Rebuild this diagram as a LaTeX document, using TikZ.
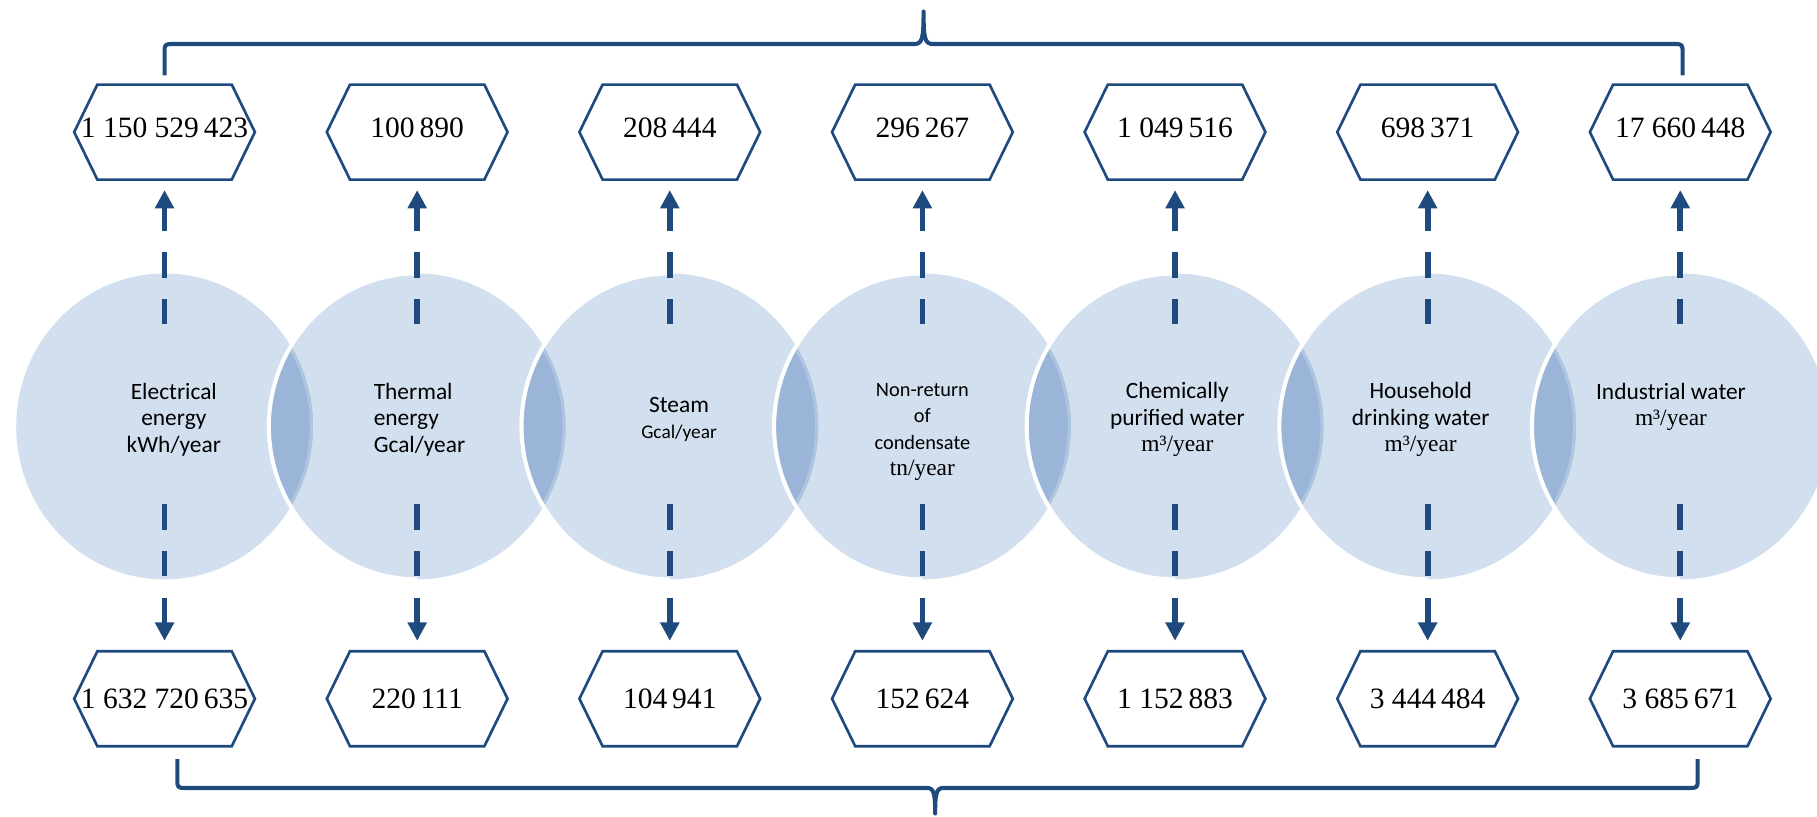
\documentclass[tikz,border=0pt]{standalone}
\usepackage{fontspec}
\setmainfont{Liberation Serif}
\newfontfamily\calibri{Carlito}
\usepackage{xcolor}
\usepackage{tikz}
\usetikzlibrary{shapes.symbols}
\usetikzlibrary{arrows.meta}

\definecolor{darkblue}{HTML}{1F4A7E}
\definecolor{bubble}{HTML}{D2DFEE}
\definecolor{lensblue}{HTML}{9AB5D7}
\definecolor{lensrim}{HTML}{AEC5E0}
\newcommand{\hexval}[1]{\makebox[0pt]{#1}}

\begin{document}
\begin{tikzpicture}[x=0.02cm, y=0.02cm,
  valbox/.style={signal, signal to=east and west, signal pointer angle=128, draw=darkblue, line width=1.3pt, fill=white, minimum width=3.12cm, minimum height=1.64cm, inner sep=0pt, font=\fontsize{14.5}{16}\selectfont},
  topbox/.style={valbox, text depth=4.5pt},
  flowarrow/.style={draw=darkblue, line width=2.8pt, dash pattern=on 12.5pt off 10.5pt, -{Triangle[width=9pt,length=9pt]}, shorten >=4.5pt},
  bracketline/.style={draw=darkblue, line width=2pt, line join=round},
  ctext/.style={align=center, font=\calibri\fontsize{11.5}{13}\selectfont, inner sep=0pt}]
  \useasboundingbox (0,0) rectangle (1568,705);

  % bubbles
  \coordinate (c1) at (142,337);
  \coordinate (c2) at (360,337);
  \coordinate (c3) at (578,337);
  \coordinate (c4) at (796,337);
  \coordinate (c5) at (1014,337);
  \coordinate (c6) at (1232,337);
  \coordinate (c7) at (1450,337);
  \fill[bubble] (c1) ellipse [x radius=128, y radius=132];
  \fill[bubble] (c2) ellipse [x radius=128, y radius=132];
  \fill[bubble] (c3) ellipse [x radius=128, y radius=132];
  \fill[bubble] (c4) ellipse [x radius=128, y radius=132];
  \fill[bubble] (c5) ellipse [x radius=128, y radius=132];
  \fill[bubble] (c6) ellipse [x radius=128, y radius=132];
  \fill[bubble] (c7) ellipse [x radius=128, y radius=132];

  % overlaps
  \begin{scope}
    \clip (c1) ellipse [x radius=128, y radius=132];
    \clip (c2) ellipse [x radius=128, y radius=132];
    \fill[lensblue] (c2) ellipse [x radius=128, y radius=132];
    \draw[lensrim, line width=3pt] (c1) ellipse [x radius=128, y radius=132];
  \end{scope}
  \begin{scope}
    \clip (c2) ellipse [x radius=128, y radius=132];
    \clip (c3) ellipse [x radius=128, y radius=132];
    \fill[lensblue] (c3) ellipse [x radius=128, y radius=132];
    \draw[lensrim, line width=3pt] (c2) ellipse [x radius=128, y radius=132];
  \end{scope}
  \begin{scope}
    \clip (c3) ellipse [x radius=128, y radius=132];
    \clip (c4) ellipse [x radius=128, y radius=132];
    \fill[lensblue] (c4) ellipse [x radius=128, y radius=132];
    \draw[lensrim, line width=3pt] (c3) ellipse [x radius=128, y radius=132];
  \end{scope}
  \begin{scope}
    \clip (c4) ellipse [x radius=128, y radius=132];
    \clip (c5) ellipse [x radius=128, y radius=132];
    \fill[lensblue] (c5) ellipse [x radius=128, y radius=132];
    \draw[lensrim, line width=3pt] (c4) ellipse [x radius=128, y radius=132];
  \end{scope}
  \begin{scope}
    \clip (c5) ellipse [x radius=128, y radius=132];
    \clip (c6) ellipse [x radius=128, y radius=132];
    \fill[lensblue] (c6) ellipse [x radius=128, y radius=132];
    \draw[lensrim, line width=3pt] (c5) ellipse [x radius=128, y radius=132];
  \end{scope}
  \begin{scope}
    \clip (c6) ellipse [x radius=128, y radius=132];
    \clip (c7) ellipse [x radius=128, y radius=132];
    \fill[lensblue] (c7) ellipse [x radius=128, y radius=132];
    \draw[lensrim, line width=3pt] (c6) ellipse [x radius=128, y radius=132];
  \end{scope}
  \draw[white, line width=2pt] (c2) ++(0,132) arc [start angle=90, end angle=270, x radius=128, y radius=132];
  \draw[white, line width=2pt] (c3) ++(0,132) arc [start angle=90, end angle=270, x radius=128, y radius=132];
  \draw[white, line width=2pt] (c4) ++(0,132) arc [start angle=90, end angle=270, x radius=128, y radius=132];
  \draw[white, line width=2pt] (c5) ++(0,132) arc [start angle=90, end angle=270, x radius=128, y radius=132];
  \draw[white, line width=2pt] (c6) ++(0,132) arc [start angle=90, end angle=270, x radius=128, y radius=132];
  \draw[white, line width=2pt] (c7) ++(0,132) arc [start angle=90, end angle=270, x radius=128, y radius=132];

  % bubble texts
  \node[ctext] (e1) at (150,343) {Electrical\\energy\\kWh/year};
  \node[ctext, align=left] (e2) at (362,343) {Thermal\\energy\\Gcal/year};
  \node[ctext] (e3) at (586,343) {Steam\\{\fontsize{9.5}{13}\selectfont Gcal/year}};
  \node[ctext] (e4) at (796,332) {{\fontsize{10}{12.5}\selectfont Non-return}\\{\fontsize{10}{12.5}\selectfont of}\\{\fontsize{10}{12.5}\selectfont condensate}\\{\rmfamily tn/year}};
  \node[ctext] (e5) at (1016,343) {Chemically\\purified water\\{\rmfamily m³/year}};
  \node[ctext] (e6) at (1226,343) {Household\\drinking water\\{\rmfamily m³/year}};
  \node[ctext] (e7) at (1442,354) {Industrial water\\{\rmfamily m³/year}};

  % values
  \node[topbox] (t1) at (142,591) {\hexval{1 150 529\,423}};
  \node[topbox] (t2) at (360,591) {\hexval{100\,890}};
  \node[topbox] (t3) at (578,591) {\hexval{208\,444}};
  \node[topbox] (t4) at (796,591) {\hexval{296\,267}};
  \node[topbox] (t5) at (1014,591) {\hexval{1 049\,516}};
  \node[topbox] (t6) at (1232,591) {\hexval{698\,371}};
  \node[topbox] (t7) at (1450,591) {\hexval{17 660\,448}};
  \node[valbox] (b1) at (142,102) {\hexval{1 632 720\,635}};
  \node[valbox] (b2) at (360,102) {\hexval{220\,111}};
  \node[valbox] (b3) at (578,102) {\hexval{104\,941}};
  \node[valbox] (b4) at (796,102) {\hexval{152\,624}};
  \node[valbox] (b5) at (1014,102) {\hexval{1 152\,883}};
  \node[valbox] (b6) at (1232,102) {\hexval{3 444\,484}};
  \node[valbox] (b7) at (1450,102) {\hexval{3 685\,671}};

  % arrows
  \coordinate (u1) at (142,425);
  \coordinate (u2) at (360,425);
  \coordinate (u3) at (578,425);
  \coordinate (u4) at (796,425);
  \coordinate (u5) at (1014,425);
  \coordinate (u6) at (1232,425);
  \coordinate (u7) at (1450,425);
  \coordinate (d1) at (142,270);
  \coordinate (d2) at (360,270);
  \coordinate (d3) at (578,270);
  \coordinate (d4) at (796,270);
  \coordinate (d5) at (1014,270);
  \coordinate (d6) at (1232,270);
  \coordinate (d7) at (1450,270);
  \draw[flowarrow] (u1) -- (t1);
  \draw[flowarrow] (u2) -- (t2);
  \draw[flowarrow] (u3) -- (t3);
  \draw[flowarrow] (u4) -- (t4);
  \draw[flowarrow] (u5) -- (t5);
  \draw[flowarrow] (u6) -- (t6);
  \draw[flowarrow] (u7) -- (t7);
  \draw[flowarrow] (d1) -- (b1);
  \draw[flowarrow] (d2) -- (b2);
  \draw[flowarrow] (d3) -- (b3);
  \draw[flowarrow] (d4) -- (b4);
  \draw[flowarrow] (d5) -- (b5);
  \draw[flowarrow] (d6) -- (b6);
  \draw[flowarrow] (d7) -- (b7);

  % brackets
  \draw[bracketline] (142,640) -- (142,659) .. controls (142,667) .. (150,667) -- (789,667) .. controls (796,667) and (797,672) .. (797,695) .. controls (797,672) and (798,667) .. (805,667) -- (1444,667) .. controls (1452,667) .. (1452,659) -- (1452,640);
  \draw[bracketline] (153,50) -- (153,33) .. controls (153,25) .. (161,25) -- (800,25) .. controls (806,25) and (807,20) .. (807,3) .. controls (807,20) and (808,25) .. (814,25) -- (1457,25) .. controls (1465,25) .. (1465,33) -- (1465,50);
\end{tikzpicture}
\end{document}
